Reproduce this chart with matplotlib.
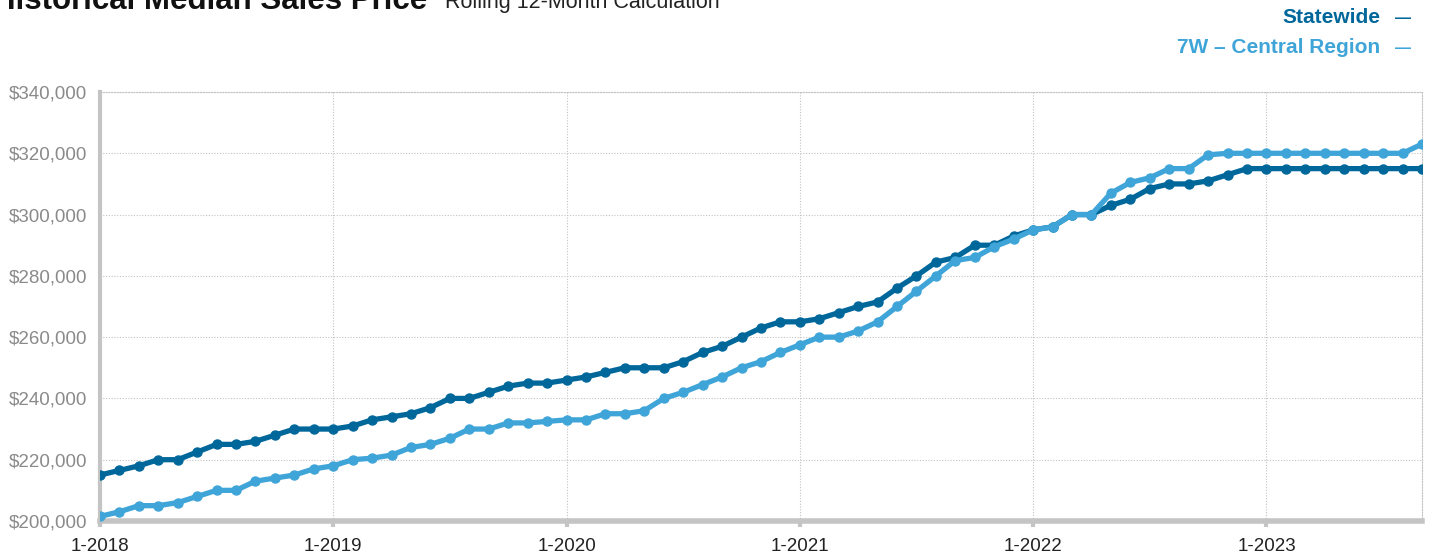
import pandas as pd
import matplotlib
matplotlib.use('Agg')
import matplotlib.pyplot as plt
from matplotlib.ticker import FuncFormatter

plt.rcParams['font.family'] = ['Liberation Sans', 'DejaVu Sans']

# monthly rolling 12-month median sales price, Jan 2018 - Sep 2023
months = pd.date_range('2018-01-01', '2023-09-01', freq='MS')
statewide = [
    215000, 216500, 218000, 220000, 220000, 222500, 225000, 225000, 226000, 228000, 230000, 230000,
    230000, 231000, 233000, 234000, 235000, 237000, 240000, 240000, 242000, 244000, 245000, 245000,
    246000, 247000, 248500, 250000, 250000, 250000, 252000, 255000, 257000, 260000, 263000, 265000,
    265000, 266000, 268000, 270000, 271500, 276000, 280000, 284500, 286000, 290000, 290000, 293000,
    295000, 296000, 300000, 300000, 303000, 305000, 308500, 310000, 310000, 311000, 313000, 315000,
    315000, 315000, 315000, 315000, 315000, 315000, 315000, 315000, 315000,
]
central = [
    201500, 203000, 205000, 205000, 206000, 208000, 210000, 210000, 213000, 214000, 215000, 217000,
    218000, 220000, 220500, 221500, 224000, 225000, 227000, 230000, 230000, 232000, 232000, 232500,
    233000, 233000, 235000, 235000, 236000, 240000, 242000, 244500, 247000, 250000, 252000, 255000,
    257500, 260000, 260000, 262000, 265000, 270000, 275000, 280000, 285000, 286000, 289500, 292000,
    295000, 296000, 300000, 300000, 307000, 310500, 312000, 315000, 315000, 319500, 320000, 320000,
    320000, 320000, 320000, 320000, 320000, 320000, 320000, 320000, 323000,
]
series_names = ['Statewide', '7W \u2013 Central Region']
y_ticks = list(range(200000, 340001, 20000))

dark = '#00679b'
light = '#3fa5d8'

x = list(range(len(months)))
tick_pos = [i for i, m in enumerate(months) if m.month == 1]
tick_labels = [f"{m.month}-{m.year}" for m in months if m.month == 1]

fig = plt.figure(figsize=(14.32, 5.52), dpi=100)
ax = fig.add_axes([0.0698, 0.0562, 0.9232, 0.7771])

ax.plot(x, statewide, color=dark, linewidth=3.8, marker='o', markersize=6.5, zorder=3)
ax.plot(x, central, color=light, linewidth=3.8, marker='o', markersize=6.5, zorder=4)

ax.set_xlim(0, len(months) - 1)
ax.set_ylim(200000, 340000)
ax.set_yticks(y_ticks)
ax.yaxis.set_major_formatter(FuncFormatter(lambda v, p: f"${v:,.0f}"))
ax.set_xticks(tick_pos)
ax.set_xticklabels(tick_labels)

ax.grid(True, color='#c2c2c2', linestyle=(0, (1, 1.5)), linewidth=0.8)
ax.set_axisbelow(True)
for s in ['top', 'right']:
    ax.spines[s].set_visible(True)
    ax.spines[s].set_color('#c2c2c2')
    ax.spines[s].set_linestyle((0, (1, 1.5)))
    ax.spines[s].set_linewidth(0.8)
ax.spines['left'].set_color('#c4c4c4')
ax.spines['left'].set_linewidth(3)
ax.spines['bottom'].set_color('#c4c4c4')
ax.spines['bottom'].set_linewidth(4)

ax.tick_params(axis='y', length=0, pad=9, labelsize=13.5, labelcolor='#8a8a8a')
ax.tick_params(axis='x', length=4, width=3, color='#c4c4c4', pad=8, labelsize=13.5, labelcolor='#222222')

# title (partly cut at the top like the original)
fig.text(-0.005, 0.984, 'Historical Median Sales Price', fontsize=22.5, fontweight='bold',
         color='#111111', va='baseline', ha='left')
fig.text(0.311, 0.986, 'Rolling 12-Month Calculation', fontsize=15.5,
         color='#222222', va='baseline', ha='left')

# legend as right aligned text
fig.text(0.964, 0.968, series_names[0], fontsize=15, fontweight='bold', color=dark, ha='right', va='center')
fig.text(0.985, 0.966, '\u2014', fontsize=11.5, fontweight='bold', color=dark, ha='right', va='center')
fig.text(0.964, 0.914, series_names[1], fontsize=15, fontweight='bold', color=light, ha='right', va='center')
fig.text(0.985, 0.912, '\u2014', fontsize=11.5, fontweight='bold', color=light, ha='right', va='center')

fig.savefig('out.png', dpi=100)
